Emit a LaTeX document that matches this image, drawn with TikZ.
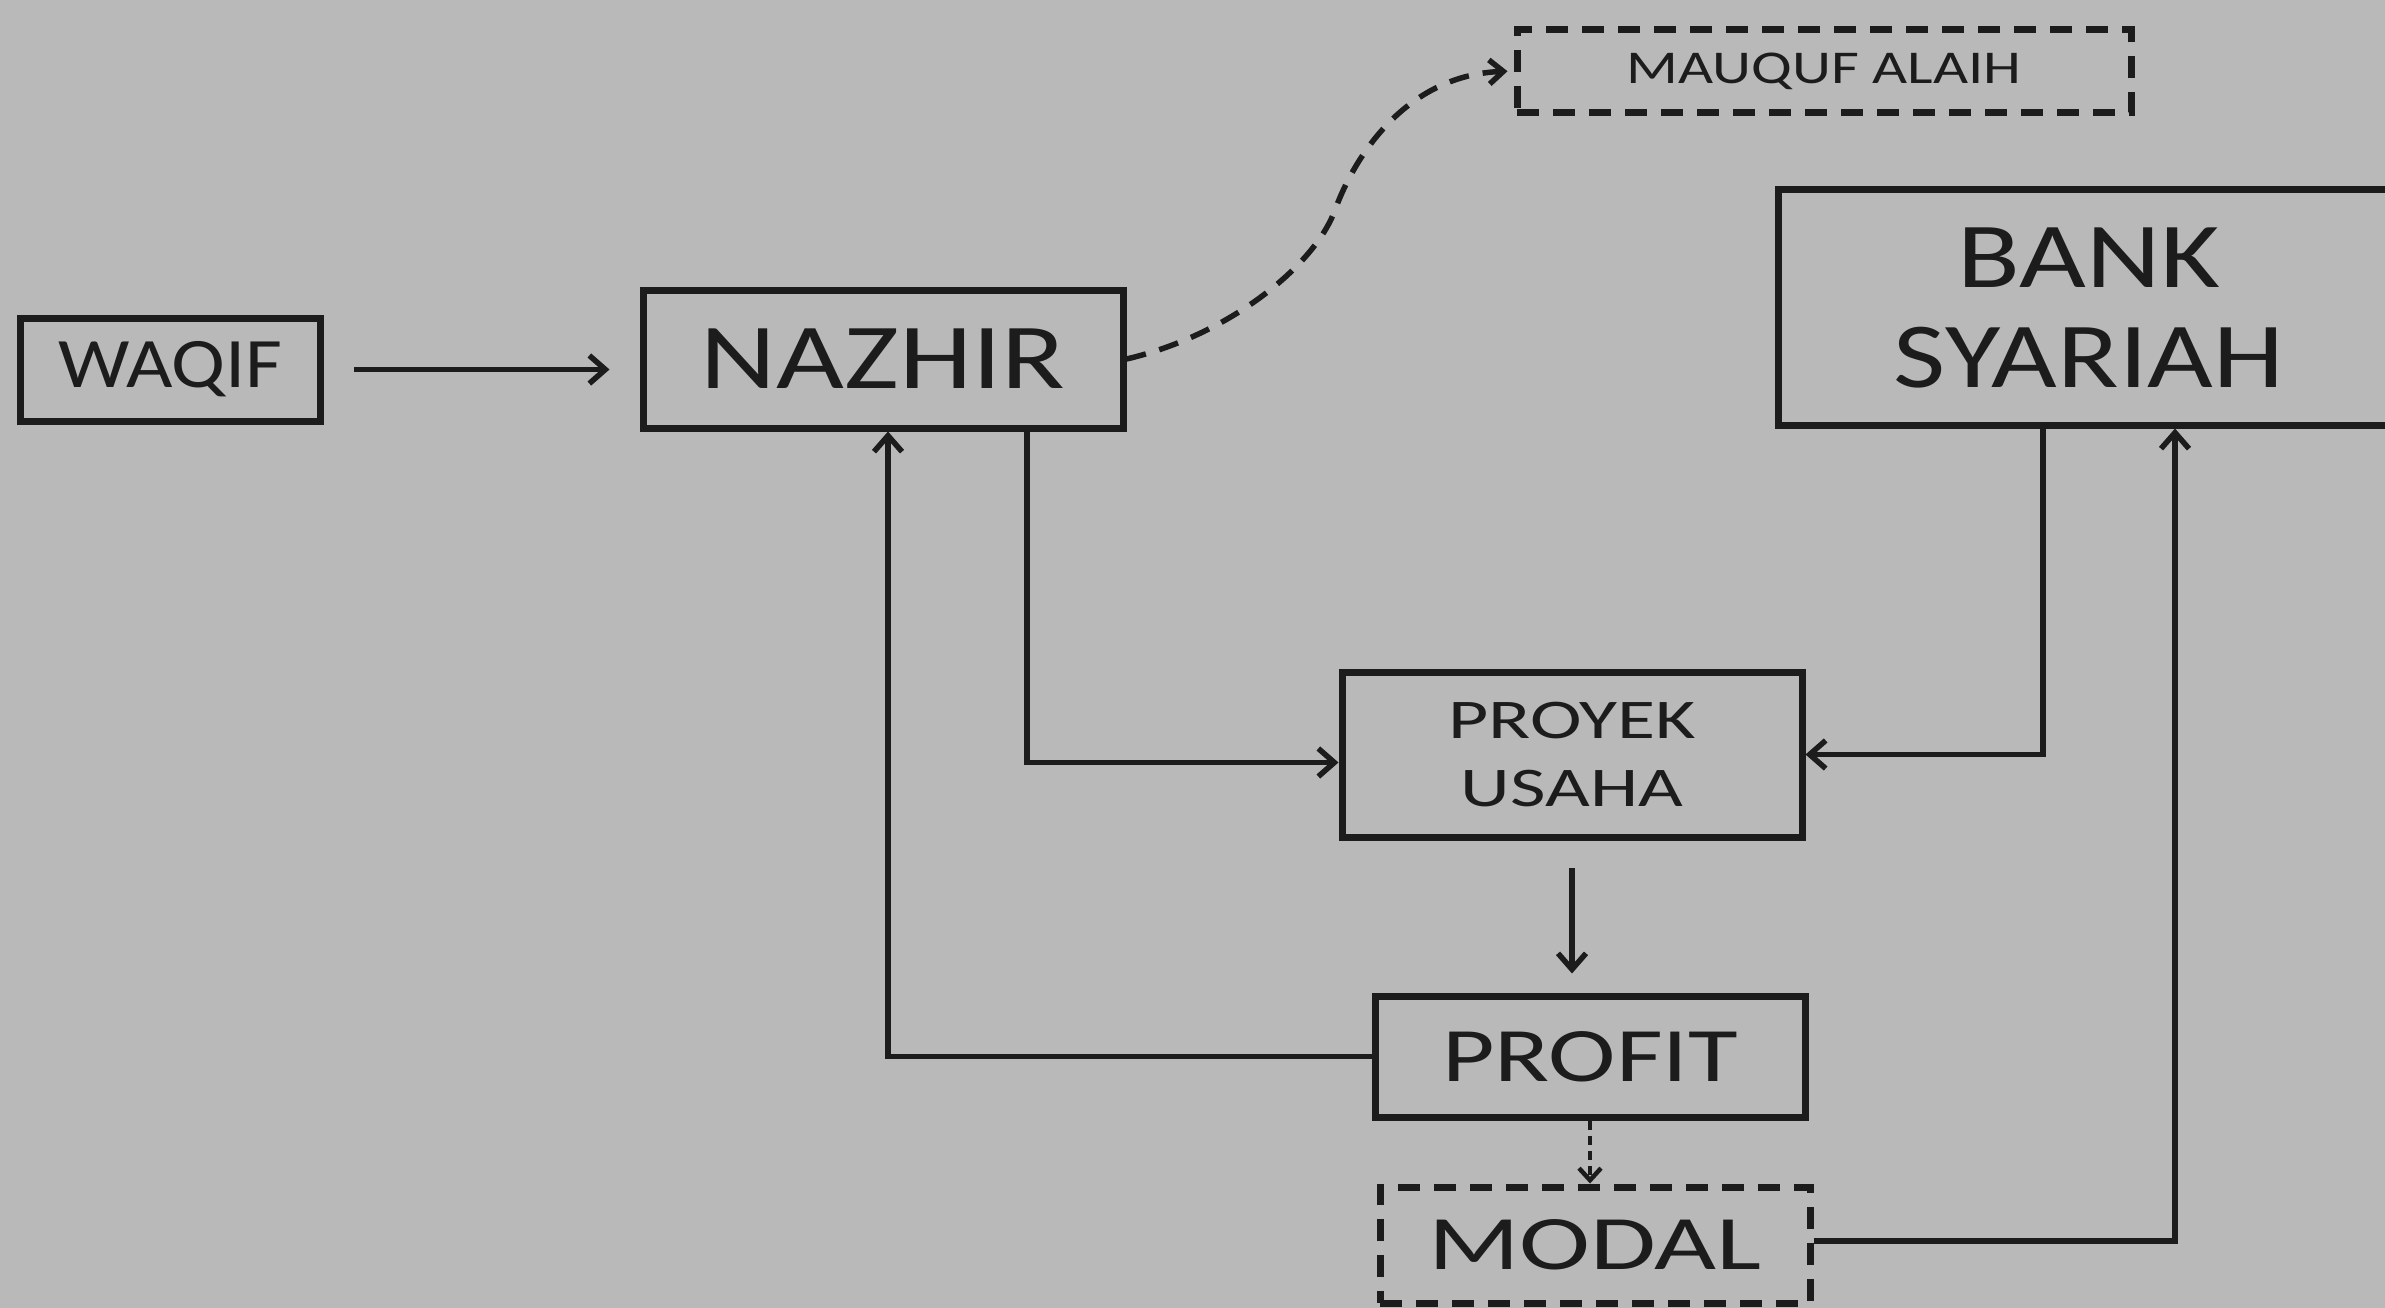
\documentclass[tikz,border=0pt]{standalone}
\usepackage{fontspec}
\usepackage{graphicx}
\setmainfont{Carlito}
\usetikzlibrary{arrows.meta,calc}
\definecolor{bgc}{HTML}{B9B9B9}
\definecolor{ink}{HTML}{1C1C1C}
\newcommand\sxs[2]{\scalebox{#1}[1]{#2}}
\tikzset{
  box/.style={draw=ink, line width=7pt, inner sep=0pt, text=ink, rectangle},
  dbox/.style={box, line width=7pt, dash pattern=on 22pt off 14pt},
  arr/.style={draw=ink, line width=5.5pt, -{Straight Barb[length=16pt,width=28pt]}},
  darr/.style={draw=ink, line width=5.5pt, dash pattern=on 20pt off 14pt, -{Straight Barb[length=14pt,width=24pt]}},
  dotarr/.style={draw=ink, line width=4.5pt, dash pattern=on 9pt off 6pt, -{Straight Barb[length=12pt,width=22pt]}},
}
\begin{document}
\begin{tikzpicture}[x=1pt,y=-1pt]
\fill[bgc] (0,0) rectangle (2385,1308);
\useasboundingbox (0,0) rectangle (2385,1308);

\node[box, minimum width=300, minimum height=103, font=\fontsize{71}{80}\selectfont] (waqif) at (170.5,369.5)
  {\sxs{1.13}{WAQIF}};
\node[box, minimum width=480, minimum height=138, font=\fontsize{93}{100}\selectfont] (nazhir) at (883,359)
  {\sxs{1.26}{NAZHIR}};
\node[dbox, minimum width=614, minimum height=83, font=\fontsize{47}{50}\selectfont] (mauquf) at (1824,71)
  {\sxs{1.29}{MAUQUF ALAIH}};
\node[box, minimum width=622, minimum height=235, align=center, font=\fontsize{93}{100}\selectfont] (bank) at (2089,307.5)
  {\sxs{1.24}{BANK}\\\sxs{1.22}{SYARIAH}};
\node[box, minimum width=460, minimum height=165, align=center, font=\fontsize{56}{68}\selectfont] (proyek) at (1572,754.5)
  {\sxs{1.39}{PROYEK}\\\sxs{1.38}{USAHA}};
\node[box, minimum width=430, minimum height=121, font=\fontsize{77}{80}\selectfont] (profit) at (1590,1056.5)
  {\sxs{1.32}{PROFIT}};
\node[dbox, minimum width=430, minimum height=116, font=\fontsize{77}{80}\selectfont] (modal) at (1595,1245)
  {\sxs{1.39}{MODAL}};

% connectors
\draw[arr, shorten <=30pt, shorten >=30pt] (waqif.east) -- (waqif.east -| nazhir.west);
\draw[arr] ([xshift=144pt]nazhir.south) |- ($(proyek.west)+(0,8)$);
\draw[arr] ([xshift=-46pt]bank.south) |- (proyek.east);
\draw[arr, shorten <=27pt, shorten >=19pt] (proyek.south) -- (proyek.south |- profit.north);
\draw[arr] (profit.west) -| ([xshift=5pt]nazhir.south);
\draw[dotarr] (profit.south) -- (profit.south |- modal.north);
\draw[arr] ($(modal.east)+(0,-4)$) -| ([xshift=86pt]bank.south);
\draw[darr, shorten >=6pt] (nazhir.east) .. controls (1230,335) and (1315,265) .. (1335,210)
  .. controls (1357,150) and (1410,75) .. (mauquf.west);
\end{tikzpicture}
\end{document}
